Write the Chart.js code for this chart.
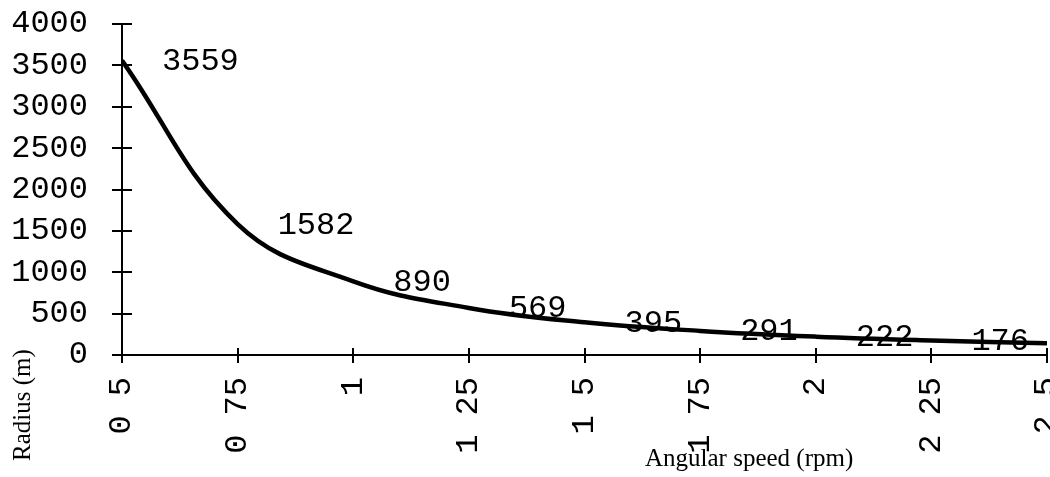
<!DOCTYPE html>
<html>
<head>
<meta charset="utf-8">
<script src="https://cdn.jsdelivr.net/npm/chart.js@4"></script>
<style>
  html, body { margin: 0; padding: 0; background: #fff; }
  #wrap { width: 1050px; height: 477px; }
</style>
</head>
<body>
<div id="wrap"><canvas id="radiusChart"></canvas></div>
<script>
// values
const speeds = [0.5, 0.75, 1, 1.25, 1.5, 1.75, 2, 2.25, 2.5];
const radii = [3559, 1582, 890, 569, 395, 291, 222, 176, 142];
const pointLabels = ['3559', '1582', '890', '569', '395', '291', '222', '176', '142'];
const xTickLabels = ['0 5', '0 75', '1', '1 25', '1 5', '1 75', '2', '2 25', '2 5'];
const yTickValues = [0, 500, 1000, 1500, 2000, 2500, 3000, 3500, 4000];
const yTickLabels = ['0', '500', '1000', '1500', '2000', '2500', '3000', '3500', '4000'];

const tickFont = { family: '"Liberation Mono", monospace', size: 32 };

// numbers written next to each point
const pointLabelPlugin = {
    id: 'pointLabels',
    afterDatasetsDraw(chart) {
        const ctx = chart.ctx;
        const meta = chart.getDatasetMeta(0);
        ctx.save();
        ctx.font = '32px "Liberation Mono", monospace';
        ctx.fillStyle = '#000';
        ctx.textAlign = 'left';
        ctx.textBaseline = 'middle';
        meta.data.forEach(function (pt, i) {
            ctx.fillText(pointLabels[i], pt.x + 40, pt.y + 1);
        });
        ctx.restore();
    }
};

// the original's tick marks cross the axis, add the inner half
const innerTicksPlugin = {
    id: 'innerTicks',
    afterDraw(chart) {
        const ctx = chart.ctx;
        const xs = chart.scales.x, ys = chart.scales.y;
        const area = chart.chartArea;
        ctx.save();
        ctx.strokeStyle = '#000';
        ctx.lineWidth = 2;
        ctx.beginPath();
        ys.ticks.forEach(function (t) {
            const py = Math.round(ys.getPixelForValue(t.value));
            ctx.moveTo(area.left, py);
            ctx.lineTo(area.left + 10, py);
        });
        xs.ticks.forEach(function (t) {
            const px = Math.round(xs.getPixelForValue(t.value));
            ctx.moveTo(px, area.bottom);
            ctx.lineTo(px, area.bottom - 7);
        });
        ctx.stroke();
        ctx.restore();
    }
};

// axis titles sit where the original put them
const axisTitlePlugin = {
    id: 'axisTitles',
    afterDraw(chart) {
        const ctx = chart.ctx;
        ctx.save();
        ctx.fillStyle = '#000';
        ctx.font = '25px "Liberation Serif", serif';
        ctx.textAlign = 'left';
        ctx.textBaseline = 'middle';
        ctx.fillText('Angular speed (rpm)', 645, 459);
        ctx.translate(23, 405);
        ctx.rotate(-Math.PI / 2);
        ctx.textAlign = 'center';
        ctx.fillText('Radius (m)', 0, 0);
        ctx.restore();
    }
};

const ctx = document.getElementById('radiusChart').getContext('2d');
const radiusChart = new Chart(ctx, {
    type: 'line',
    data: {
        datasets: [{
            data: speeds.map((s, i) => ({ x: s, y: radii[i] })),
            borderColor: '#000',
            borderWidth: 4.5,
            pointRadius: 0,
            tension: 0.4,
            fill: false
        }]
    },
    options: {
        responsive: true,
        maintainAspectRatio: false,
        animation: false,
        layout: {
            autoPadding: false,
            padding: { top: 24, right: 3, left: 0, bottom: 0 }
        },
        scales: {
            x: {
                type: 'linear',
                min: 0.5,
                max: 2.5,
                afterBuildTicks: (scale) => { scale.ticks = speeds.map(v => ({ value: v })); },
                afterFit: (scale) => {
                    scale.height = 122;
                    scale.paddingLeft = 0;
                    scale.paddingRight = 0;
                },
                border: { color: '#000', width: 2 },
                grid: { drawOnChartArea: false, color: '#000', lineWidth: 2, tickLength: 8 },
                ticks: {
                    font: tickFont,
                    color: '#000',
                    padding: 14,
                    autoSkip: false,
                    minRotation: 90,
                    maxRotation: 90,
                    callback: (value, index) => xTickLabels[index]
                }
            },
            y: {
                min: 0,
                max: 4000,
                afterBuildTicks: (scale) => { scale.ticks = yTickValues.map(v => ({ value: v })); },
                afterFit: (scale) => {
                    scale.width = 122;
                    scale.paddingTop = 0;
                    scale.paddingBottom = 0;
                },
                border: { color: '#000', width: 2 },
                grid: { drawOnChartArea: false, color: '#000', lineWidth: 2, tickLength: 10 },
                ticks: {
                    font: tickFont,
                    color: '#000',
                    padding: 24,
                    autoSkip: false,
                    callback: (value, index) => yTickLabels[index]
                }
            }
        },
        plugins: {
            legend: { display: false },
            tooltip: { enabled: false }
        }
    },
    plugins: [pointLabelPlugin, innerTicksPlugin, axisTitlePlugin]
});
</script>
</body>
</html>
